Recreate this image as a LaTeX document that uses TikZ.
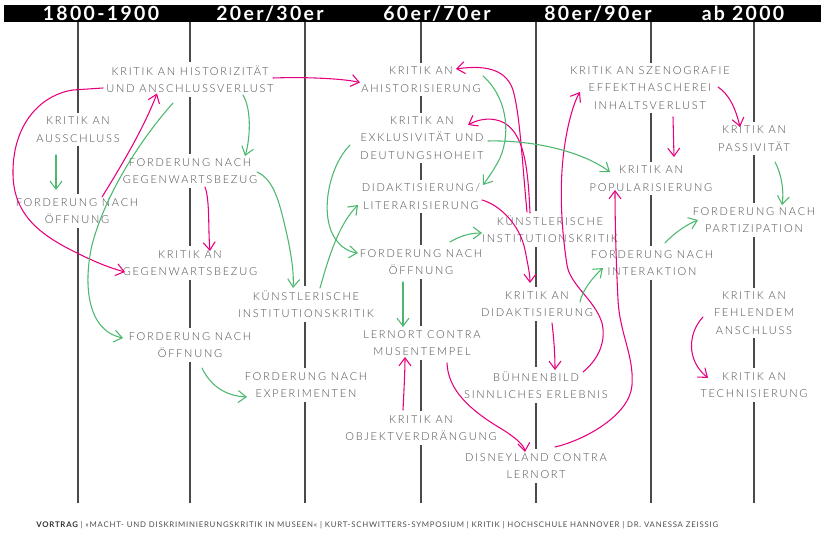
\documentclass[tikz,border=0pt]{standalone}
\usepackage{fontspec}
\setmainfont{Lato}
\newfontfamily\topicfont{Lato Light}[LetterSpace=16]
\newfontfamily\headfont{Lato}[LetterSpace=12]
\newfontfamily\footfont{Lato}[LetterSpace=10]
\usetikzlibrary{calc,arrows.meta}
\definecolor{pinkline}{HTML}{E6007E}
\definecolor{greenline}{HTML}{4CB86E}
\definecolor{textgray}{HTML}{4E4E4E}
\definecolor{linegray}{HTML}{4A4A4A}
\begin{document}
\begin{tikzpicture}[
  x=0.75pt, y=-0.75pt,
  topic/.style={fill=white, align=center, inner sep=3pt, text=textgray,
    font=\topicfont\fontsize{8.25}{13.1}\selectfont},
  era/.style={anchor=base, text=white, inner sep=0pt,
    font=\headfont\bfseries\fontsize{14.6}{15}\selectfont},
  timeline/.style={draw=linegray, line width=1pt},
  pinkarrow/.style={draw=pinkline, line width=0.8pt, line cap=round,
    -{Straight Barb[length=6pt,width=9pt]}},
  greenarrow/.style={draw=greenline, line width=0.8pt, line cap=round,
    -{Straight Barb[length=6pt,width=9pt]}}
  ]
  \useasboundingbox (0,0) rectangle (824,534);

  % Header bar and eras
  \fill[black] (4,5) rectangle (821,22);
  \node[era] (e1) at (101,20.5) {1800-1900};
  \node[era] (e2) at (270,20.5) {20er/30er};
  \node[era] (e3) at (437,20.5) {60er/70er};
  \node[era] (e4) at (598,20.5) {80er/90er};
  \node[era] (e5) at (743,20.5) {ab 2000};

  % Timeline
  \foreach \x in {78,190,305,421,536,651,754}
    \draw[timeline] (\x,22) -- (\x,503);

  % Define nodes
  \node[topic] (ausschluss) at (78,129.5) {KRITIK AN\\AUSSCHLUSS};
  \node[topic] (oeffnungA) at (77,211) {FORDERUNG NACH\\ÖFFNUNG};
  \node[topic] (hist) at (190,79.5) {KRITIK AN HISTORIZITÄT\\UND ANSCHLUSSVERLUST};
  \node[topic] (gegenF) at (190,171) {FORDERUNG NACH\\GEGENWARTSBEZUG};
  \node[topic] (gegenK) at (190,263) {KRITIK AN\\GEGENWARTSBEZUG};
  \node[topic] (oeffnungB) at (190,345) {FORDERUNG NACH\\ÖFFNUNG};
  \node[topic] (institA) at (306,304) {KÜNSTLERISCHE\\INSTITUTIONSKRITIK};
  \node[topic] (experim) at (306,385) {FORDERUNG NACH\\EXPERIMENTEN};
  \node[topic] (ahist) at (421,79.5) {KRITIK AN\\AHISTORISIERUNG};
  \node[topic] (exklus) at (422,138) {KRITIK AN\\EXKLUSIVITÄT UND\\DEUTUNGSHOHEIT};
  \node[topic] (didakt) at (421,196.5) {DIDAKTISIERUNG/\\LITERARISIERUNG};
  \node[topic] (oeffnungC) at (421,262) {FORDERUNG NACH\\ÖFFNUNG};
  \node[topic] (lernort) at (422,343) {LERNORT CONTRA\\MUSENTEMPEL};
  \node[topic] (objekt) at (421,428) {KRITIK AN\\OBJEKTVERDRÄNGUNG};
  \node[topic] (institB) at (550,229) {KÜNSTLERISCHE\\INSTITUTIONSKRITIK};
  \node[topic] (didaktK) at (537,304) {KRITIK AN\\DIDAKTISIERUNG};
  \node[topic] (buehne) at (536,385) {BÜHNENBILD\\SINNLICHES ERLEBNIS};
  \node[topic] (disney) at (536,466) {DISNEYLAND CONTRA\\LERNORT};
  \node[topic] (szeno) at (650,88) {KRITIK AN SZENOGRAFIE\\EFFEKTHASCHEREI\\INHALTSVERLUST};
  \node[topic] (popul) at (651,178.5) {KRITIK AN\\POPULARISIERUNG};
  \node[topic] (interakt) at (652,263) {FORDERUNG NACH\\INTERAKTION};
  \node[topic] (passiv) at (754,138.5) {KRITIK AN\\PASSIVITÄT};
  \node[topic] (partiz) at (754,220) {FORDERUNG NACH\\PARTIZIPATION};
  \node[topic] (fehlend) at (754,313) {KRITIK AN\\FEHLENDEM\\ANSCHLUSS};
  \node[topic] (technis) at (754,385) {KRITIK AN\\TECHNISIERUNG};

  % Pink arrows
  \draw[pinkarrow] ($(hist)+(-87,8.5)$) -- (73,90)
    .. controls (40,95) and (12,125) .. (13,175)
    .. controls (14,215) and (40,235) .. (77,253)
    .. controls (95,262) and (110,268) .. ($(gegenK)+(-65,9)$);
  \draw[pinkarrow] ($(oeffnungA)+(25,-14)$)
    .. controls (125,160) and (145,125) .. ($(hist)+(-33,14)$);
  \draw[pinkarrow] ($(hist)+(83,-1.5)$)
    .. controls (300,77) and (340,78) .. ($(ahist)+(-61,3)$);
  \draw[pinkarrow] ($(gegenF)+(15,16)$)
    .. controls (210,200) and (208,230) .. ($(gegenK)+(20,-12)$);
  \draw[pinkarrow] ($(institB)+(-23,-17)$)
    .. controls (522,160) and (520,115) .. (513,90)
    .. controls (507,72) and (490,64) .. ($(ahist)+(35,-10.5)$);
  \draw[pinkarrow] ($(institB)+(-20,-16)$)
    .. controls (528,170) and (525,130) .. (500,121)
    .. controls (488,117) and (477,120) .. ($(exklus)+(46,-13)$);
  \draw[pinkarrow] ($(didakt)+(61,3.5)$)
    .. controls (500,205) and (520,225) .. (525,250)
    .. controls (528,265) and (530,275) .. ($(didaktK)+(-7,-21)$);
  \draw[pinkarrow] ($(buehne)+(47,-13)$)
    .. controls (600,358) and (606,340) .. (602,323)
    .. controls (595,300) and (570,285) .. (567,265)
    .. controls (560,220) and (560,180) .. (564,150)
    .. controls (568,120) and (575,100) .. ($(szeno)+(-70,4)$);
  \draw[pinkarrow] ($(disney)+(19,-19)$)
    .. controls (585,440) and (630,415) .. (632,385)
    .. controls (634,355) and (620,335) .. (618,300)
    .. controls (616,260) and (615,220) .. ($(popul)+(-36,11.5)$);
  \draw[pinkarrow] ($(szeno)+(68,-1)$)
    .. controls (730,95) and (736,110) .. ($(passiv)+(-14,-11.5)$);
  \draw[pinkarrow] ($(szeno)+(23,29)$) -- ($(popul)+(23,-21.5)$);
  \draw[pinkarrow] ($(didaktK)+(15,19)$)
    .. controls (554,340) and (555,355) .. ($(buehne)+(19,-15)$);
  \draw[pinkarrow] ($(fehlend)+(-51,4)$)
    .. controls (688,333) and (686,360) .. ($(technis)+(-46,-7)$);
  \draw[pinkarrow] ($(lernort)+(25,20)$)
    .. controls (448,390) and (470,410) .. (500,428)
    .. controls (515,437) and (524,445) .. ($(disney)+(-11,-14)$);
  \draw[pinkarrow] ($(objekt)+(-18,-18)$)
    .. controls (404,390) and (405,370) .. ($(lernort)+(-17,14)$);

  % Green arrows
  \draw[greenarrow] ($(ausschluss)+(-22,25.5)$) -- ($(oeffnungA)+(-21,-21)$);
  \draw[greenarrow] ($(hist)+(-17,23.5)$)
    .. controls (140,140) and (105,195) .. (92,245)
    .. controls (84,280) and (85,330) .. ($(oeffnungB)+(-67,-7)$);
  \draw[greenarrow] ($(hist)+(53,15.5)$)
    .. controls (252,110) and (250,140) .. ($(gegenF)+(55,-15)$);
  \draw[greenarrow] ($(gegenF)+(67,1)$)
    .. controls (275,180) and (280,205) .. (287,235)
    .. controls (292,258) and (294,275) .. ($(institA)+(-13,-16)$);
  \draw[greenarrow] ($(institA)+(14,-16)$)
    .. controls (328,260) and (338,225) .. ($(didakt)+(-63,8.5)$);
  \draw[greenarrow] ($(exklus)+(-72,7)$)
    .. controls (330,165) and (320,210) .. (333,235)
    .. controls (340,248) and (350,252) .. ($(oeffnungC)+(-63,-9)$);
  \draw[greenarrow] ($(oeffnungC)+(-18,20)$) -- ($(lernort)+(-19,-16)$);
  \draw[greenarrow] ($(oeffnungB)+(12,23)$)
    .. controls (210,385) and (225,396) .. ($(experim)+(-59,12)$);
  \draw[greenarrow] ($(ahist)+(62,-3.5)$)
    .. controls (505,95) and (512,130) .. (500,158)
    .. controls (494,170) and (488,178) .. ($(didakt)+(62,-11.5)$);
  \draw[greenarrow] ($(exklus)+(66,3)$)
    .. controls (530,140) and (580,150) .. ($(popul)+(-41,-6.5)$);
  \draw[greenarrow] ($(oeffnungC)+(29,-20)$)
    .. controls (460,236) and (470,233) .. ($(institB)+(-68,4)$);
  \draw[greenarrow] ($(didaktK)+(43,-2)$)
    .. controls (582,290) and (595,275) .. ($(interakt)+(-49,5)$);
  \draw[greenarrow] ($(interakt)+(13,-20)$)
    .. controls (675,232) and (688,224) .. ($(partiz)+(-56,0)$);
  \draw[greenarrow] ($(passiv)+(21,23.5)$)
    .. controls (782,175) and (784,192) .. ($(partiz)+(28,-15)$);

  % Footer
  \node[anchor=base west, inner sep=0pt, text=textgray,
    font=\footfont\fontsize{5.85}{6.5}\selectfont] (footer) at (36,527.5)
    {{\bfseries\color{black!80}VORTRAG} | »MACHT- UND DISKRIMINIERUNGSKRITIK IN MUSEEN« | KURT-SCHWITTERS-SYMPOSIUM | KRITIK | HOCHSCHULE HANNOVER | DR. VANESSA ZEISSIG};
\end{tikzpicture}
\end{document}
